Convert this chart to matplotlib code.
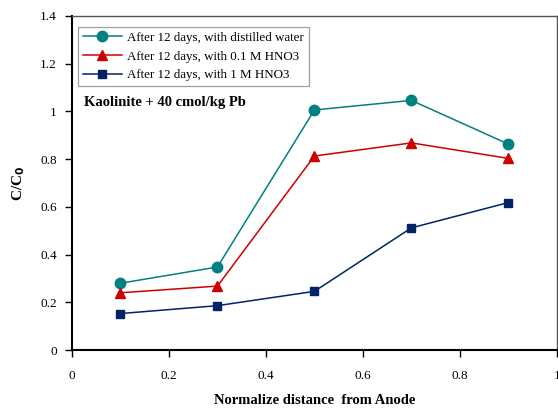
import matplotlib
matplotlib.use("Agg")
import matplotlib.pyplot as plt

plt.rcParams['font.family'] = ['Liberation Serif', 'DejaVu Serif']

x = [0.1, 0.3, 0.5, 0.7, 0.9]
distilled = [0.28, 0.348, 1.006, 1.046, 0.863]
hno3_01 = [0.24, 0.268, 0.813, 0.868, 0.803]
hno3_1 = [0.153, 0.186, 0.246, 0.512, 0.618]
labels = ["After 12 days, with distilled water",
          "After 12 days, with 0.1 M HNO3",
          "After 12 days, with 1 M HNO3"]
xticks = [0, 0.2, 0.4, 0.6, 0.8, 1]
yticks = [0, 0.2, 0.4, 0.6, 0.8, 1, 1.2, 1.4]

fig = plt.figure(figsize=(5.58, 4.08), dpi=100)
ax = fig.add_axes([0.129, 0.142, 0.869, 0.819])

ax.plot(x, distilled, color='#008080', marker='o', markersize=7.5, lw=1.1, label=labels[0])
ax.plot(x, hno3_01, color='#CC0000', marker='^', markersize=7, lw=1.1, label=labels[1])
ax.plot(x, hno3_1, color='#002366', marker='s', markersize=6.2, lw=1.1, label=labels[2])

ax.set_xlim(0, 1)
ax.set_ylim(0, 1.4)
ax.set_xticks(xticks)
ax.set_xticklabels(['0', '0.2', '0.4', '0.6', '0.8', '1'])
ax.set_yticks(yticks)
ax.set_yticklabels(['0', '0.2', '0.4', '0.6', '0.8', '1', '1.2', '1.4'])
ax.tick_params(direction='out', length=5, width=1, labelsize=9.5, pad=6)
ax.tick_params(axis='x', pad=9)

for s in ['left', 'bottom']:
    ax.spines[s].set_linewidth(1.5)
    ax.spines[s].set_color('black')
for s in ['top', 'right']:
    ax.spines[s].set_linewidth(1.0)
    ax.spines[s].set_color('#555555')

ax.set_xlabel('Normalize distance  from Anode', fontsize=10.5, fontweight='bold', labelpad=9)
ax.set_ylabel('C/C$_\\mathbf{0}$', fontsize=11, fontweight='bold', labelpad=9)

leg = ax.legend(loc='upper left', bbox_to_anchor=(0.012, 0.967), fontsize=9.4,
                frameon=True, fancybox=False, edgecolor='#888888',
                handlelength=3.0, borderpad=0.38, labelspacing=0.5, handletextpad=0.4,
                borderaxespad=0)
leg.get_frame().set_linewidth(0.9)

ax.text(0.025, 0.742, 'Kaolinite + 40 cmol/kg Pb', transform=ax.transAxes,
        fontsize=10.5, fontweight='bold', va='center', ha='left')

fig.savefig('out.png', dpi=100)
